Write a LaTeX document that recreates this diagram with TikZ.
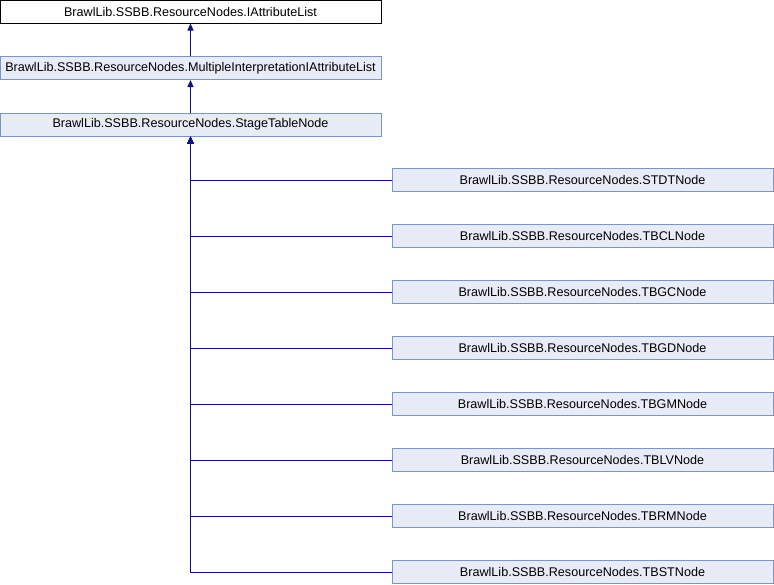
\documentclass[tikz,border=0pt]{standalone}
\usepackage{fontspec}
\setmainfont{Liberation Sans}
\usetikzlibrary{arrows.meta}

\definecolor{boxfill}{HTML}{E8ECF6}
\definecolor{boxline}{HTML}{7C95C6}
\definecolor{edgeblue}{HTML}{10108C}

\tikzset{
	cls/.style={draw=boxline, fill=boxfill, line width=1pt, minimum width=381pt,
		minimum height=23pt, inner sep=0pt, font=\fontsize{12.6}{14}\selectfont},
	topcls/.style={cls, draw=black, fill=white},
	inherit/.style={edgeblue, line width=1pt, -{Triangle[length=7pt, width=6pt]}}
}

\begin{document}
\begin{tikzpicture}[x=1pt, y=-1pt]
		\useasboundingbox (0, 0) rectangle (774, 584);

		\node[topcls] (ial) at (190.5, 11.5) {BrawlLib.SSBB.ResourceNodes.IAttributeList};
		\node[cls] (mial) at (190.5, 68) {BrawlLib.SSBB.ResourceNodes.MultipleInterpretationIAttributeList};
		\node[cls] (stn) at (190.5, 124.5) {BrawlLib.SSBB.ResourceNodes.StageTableNode};

		\draw[inherit] (mial) -- (ial);
		\draw[inherit] (stn) -- (mial);

		\foreach \name [count=\i from 0] in {STDT,TBCL,TBGC,TBGD,TBGM,TBLV,TBRM,TBST} {
			\node[cls] (\name) at (582.5, 180 + 56*\i) {BrawlLib.SSBB.ResourceNodes.\name Node};
			\draw[inherit] (\name.west) -| (stn.south);
		}
	\end{tikzpicture}
\end{document}
